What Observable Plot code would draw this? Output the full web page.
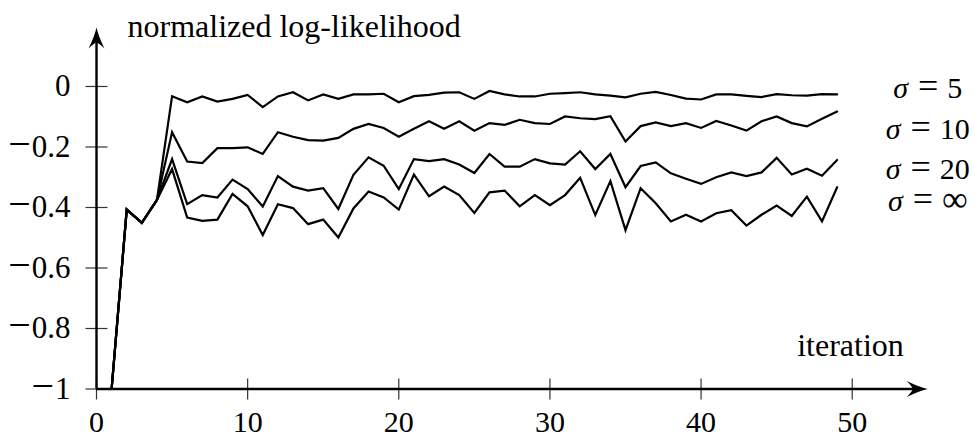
<!DOCTYPE html>
<html>
<head>
<meta charset="utf-8">
<script src="https://cdn.jsdelivr.net/npm/d3@7"></script>
<script src="https://cdn.jsdelivr.net/npm/@observablehq/plot@0.6"></script>
<style>
  html, body { margin: 0; padding: 0; background: #fff; }
  svg text { font-family: "Liberation Serif", "DejaVu Serif", serif !important; }
</style>
</head>
<body>
<div id="chart"></div>
<script>
// ---- data ----
const iterations = [1,2,3,4,5,6,7,8,9,10,11,12,13,14,15,16,17,18,19,20,21,22,23,24,25,26,27,28,29,30,31,32,33,34,35,36,37,38,39,40,41,42,43,44,45,46,47,48,49];

const sigma5 = [-1,-0.407,-0.451,-0.375,-0.032,-0.052,-0.033,-0.050,-0.041,-0.028,-0.068,-0.033,-0.019,-0.046,-0.026,-0.041,-0.026,-0.026,-0.024,-0.052,-0.032,-0.028,-0.020,-0.019,-0.041,-0.015,-0.026,-0.033,-0.033,-0.024,-0.022,-0.019,-0.026,-0.030,-0.036,-0.024,-0.018,-0.028,-0.040,-0.043,-0.026,-0.026,-0.031,-0.035,-0.025,-0.029,-0.030,-0.025,-0.026];

const sigma10 = [-1,-0.407,-0.451,-0.375,-0.151,-0.248,-0.253,-0.204,-0.204,-0.201,-0.223,-0.151,-0.166,-0.177,-0.179,-0.170,-0.140,-0.124,-0.137,-0.166,-0.140,-0.115,-0.140,-0.115,-0.146,-0.121,-0.127,-0.110,-0.121,-0.124,-0.099,-0.105,-0.108,-0.098,-0.182,-0.131,-0.119,-0.131,-0.121,-0.137,-0.114,-0.129,-0.146,-0.115,-0.099,-0.121,-0.132,-0.107,-0.083];

const sigma20 = [-1,-0.407,-0.451,-0.375,-0.240,-0.389,-0.359,-0.367,-0.308,-0.339,-0.397,-0.296,-0.331,-0.344,-0.336,-0.405,-0.292,-0.234,-0.262,-0.339,-0.240,-0.247,-0.240,-0.258,-0.286,-0.223,-0.265,-0.265,-0.240,-0.254,-0.258,-0.214,-0.273,-0.223,-0.333,-0.263,-0.251,-0.287,-0.305,-0.322,-0.300,-0.284,-0.296,-0.284,-0.236,-0.291,-0.272,-0.295,-0.243];

const sigmaInf = [-1,-0.407,-0.451,-0.375,-0.273,-0.433,-0.444,-0.440,-0.355,-0.396,-0.491,-0.389,-0.402,-0.455,-0.440,-0.499,-0.403,-0.347,-0.367,-0.407,-0.291,-0.363,-0.331,-0.359,-0.418,-0.350,-0.344,-0.396,-0.359,-0.392,-0.359,-0.302,-0.425,-0.313,-0.475,-0.336,-0.386,-0.446,-0.424,-0.446,-0.419,-0.409,-0.460,-0.424,-0.394,-0.428,-0.364,-0.446,-0.333];

const seriesNames = ["σ = 5", "σ = 10", "σ = 20", "σ = ∞"];
const seriesValues = [sigma5, sigma10, sigma20, sigmaInf];

const xTicks = [0, 10, 20, 30, 40, 50];
const yTicks = [-1, -0.8, -0.6, -0.4, -0.2, 0];
const xLabel = "iteration";
const yLabel = "normalized log-likelihood";

// ---- layout (not data) ----
const xMax = 55;        // end of the x-axis arrow
const yMax = 0.195;     // end of the y-axis arrow
const xMin = 0, yMin = -1;
const labelY = [-0.037, -0.173, -0.305, -0.413]; // baselines of the series labels

const rows = seriesNames.flatMap((name, s) =>
  iterations.map((it, i) => ({series: name, iteration: it, value: seriesValues[s][i]})));

// custom symbols
const hTick = {draw(ctx) { ctx.moveTo(-11, 0); ctx.lineTo(11, 0); }};
const vTick = {draw(ctx) { ctx.moveTo(0, -10.5); ctx.lineTo(0, 10.5); }};
const arrowHead = {draw(ctx) {
  ctx.moveTo(0, 0);
  ctx.quadraticCurveTo(-9, -2, -21, -8);
  ctx.quadraticCurveTo(-16, -3, -15, 0);
  ctx.quadraticCurveTo(-16, 3, -21, 8);
  ctx.quadraticCurveTo(-9, 2, 0, 0);
  ctx.closePath();
}};

const fmtY = d => d === 0 ? "0" : "\u2212" + String(Math.abs(d));
const serif = "Liberation Serif";

const chart = Plot.plot({
  width: 975,
  height: 437,
  marginLeft: 96,
  marginRight: 47.7,
  marginTop: 27,
  marginBottom: 48.5,
  x: {domain: [xMin, xMax], axis: null},
  y: {domain: [yMin, yMax], axis: null},
  style: {fontFamily: serif, background: "white", color: "black"},
  marks: [
    // tick marks
    Plot.dot(xTicks, {x: d => d, y: yMin, symbol: vTick, r: 5, fill: "none", stroke: "#333", strokeWidth: 1.2}),
    Plot.dot(yTicks, {x: xMin, y: d => d, symbol: hTick, r: 5, fill: "none", stroke: "#333", strokeWidth: 1.2}),
    // axis lines
    Plot.ruleY([yMin], {x1: xMin, x2: xMax - 0.6, stroke: "black", strokeWidth: 2.4}),
    Plot.ruleX([xMin], {y1: yMin, y2: yMax - 0.03, stroke: "black", strokeWidth: 2.4}),
    // arrow heads
    Plot.dot([xMax], {x: d => d, y: yMin, symbol: arrowHead, r: 5, fill: "black", stroke: "none"}),
    Plot.dot([yMax], {x: xMin, y: d => d, symbol: arrowHead, r: 5, rotate: -90, fill: "black", stroke: "none"}),
    // tick labels
    Plot.text(xTicks, {x: d => d, y: yMin, text: d => String(d), dy: 33, fontSize: 30, fontFamily: serif, textAnchor: "middle", lineAnchor: "middle"}),
    Plot.text(yTicks, {x: xMin, y: d => d, text: fmtY, dx: -26, fontSize: 31, fontFamily: serif, textAnchor: "end", lineAnchor: "middle"}),
    // axis labels
    Plot.text([yLabel], {frameAnchor: "top-left", dx: 31, dy: 9, fontSize: 32, fontFamily: serif, textAnchor: "start", lineAnchor: "bottom"}),
    Plot.text([xLabel], {x: xMax, y: yMin, dx: -24, dy: -33.5, fontSize: 32, fontFamily: serif, textAnchor: "end", lineAnchor: "bottom"}),
    // data lines
    Plot.line(rows, {x: "iteration", y: "value", z: "series", stroke: "black", strokeWidth: 2.2, strokeLinejoin: "miter", strokeMiterlimit: 6}),
    // series labels
    Plot.text(seriesNames, {x: xMax, y: (d, i) => labelY[i], text: d => d, fontSize: 30, fontFamily: serif, textAnchor: "middle", lineAnchor: "bottom"})
  ]
});

chart.style.fontFamily = serif;

// italic sigma, math-sized "=" and minus (text stays real text)
const ns = "http://www.w3.org/2000/svg";
const span = (txt, attrs) => {
  const e = document.createElementNS(ns, "tspan");
  for (const k in attrs) e.setAttribute(k, attrs[k]);
  e.textContent = txt;
  return e;
};
chart.querySelectorAll("text").forEach(t => {
  const s = t.textContent;
  if (s.startsWith("σ")) {
    const val = s.replace("σ", "").replace("=", "").trim();
    t.textContent = "";
    const c = val === "∞" ? span(val, {dx: 9, "font-size": 36}) : span(val, {dx: 9});
    t.append(span("σ", {"font-style": "italic"}), span("=", {dx: 10, "font-size": 36}), c);
  } else if (s.startsWith("\u2212")) {
    t.textContent = "";
    t.append(span("\u2212", {"font-size": 40}), span(s.slice(1), {dx: 1}));
  }
});

document.getElementById("chart").append(chart);
</script>
</body>
</html>
